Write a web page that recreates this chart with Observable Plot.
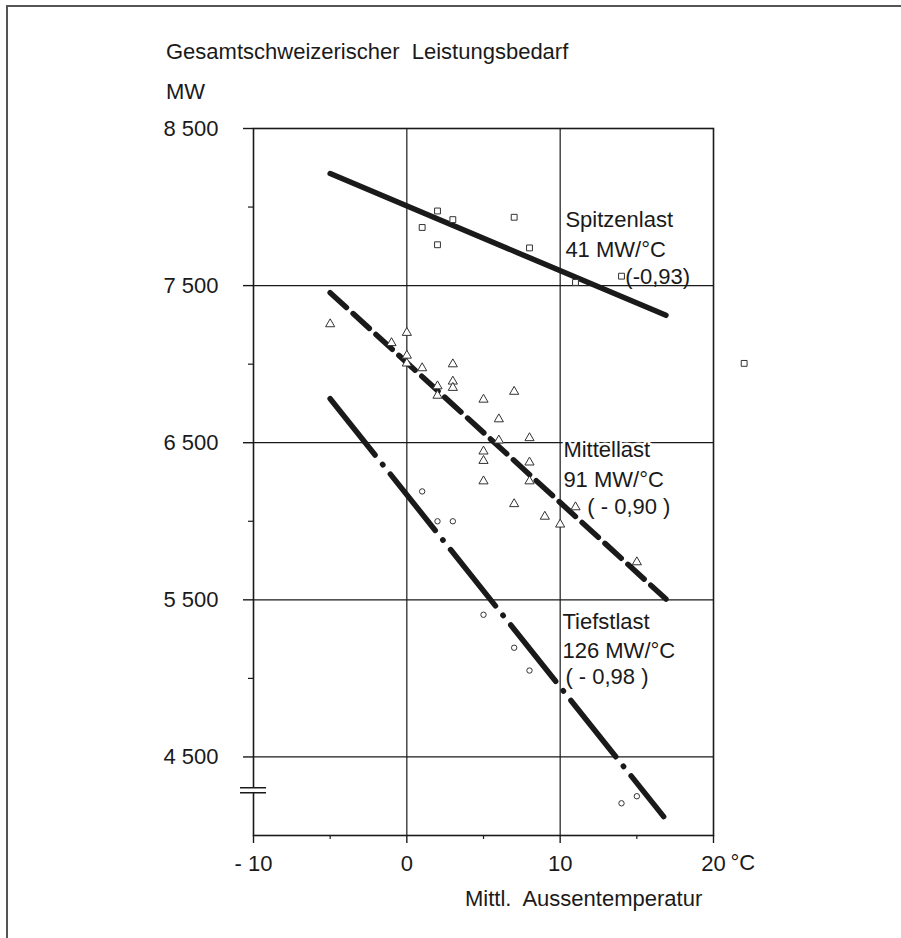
<!DOCTYPE html>
<html>
<head>
<meta charset="utf-8">
<script src="https://cdn.jsdelivr.net/npm/d3@7"></script>
<script src="https://cdn.jsdelivr.net/npm/@observablehq/plot@0.6"></script>
<style>
  body { margin: 0; background: white; }
  #wrap { position: relative; width: 901px; height: 938px; background: white; overflow: hidden; }
  #wrap svg { position: absolute; left: 0; top: 0; }
  .lbl { position: absolute; font-family: "Liberation Sans", Arial, sans-serif; font-size: 22px; line-height: 22px; color: #1a1a1a; white-space: pre; }
  #border { position: absolute; left: 6px; top: 5px; width: 900px; height: 940px; border-top: 2px solid #555; border-left: 2px solid #555; box-sizing: border-box; }
</style>
</head>
<body>
<div id="wrap">
  <div id="border"></div>
  <div class="lbl" style="left:166px; top:41px;">Gesamtschweizerischer  Leistungsbedarf</div>
  <div class="lbl" style="left:166px; top:81px;">MW</div>
  <div class="lbl" style="left:465px; top:888px;">Mittl.  Aussentemperatur</div>
</div>
<script>
// ---- Data ----
// Spitzenlast (peak load) observations: temperature (°C), MW
const spitzenT  = [1, 2, 2, 3, 7, 8, 11, 14, 22];
const spitzenMW = [7870, 7975, 7760, 7920, 7935, 7740, 7520, 7560, 7005];

// Mittellast (mean load)
const mittelT  = [-5, -1, 0, 0, 0, 1, 2, 2, 3, 3, 3, 5, 5, 5, 5, 6, 6, 7, 7, 8, 8, 8, 9, 10, 11, 15];
const mittelMW = [7255, 7135, 7200, 7055, 7005, 6975, 6860, 6800, 7000, 6890, 6850, 6775, 6445, 6385, 6255, 6650, 6515, 6825, 6110, 6530, 6375, 6255, 6030, 5980, 6090, 5740];

// Tiefstlast (minimum load)
const tiefT  = [1, 2, 3, 5, 7, 8, 14, 15];
const tiefMW = [6190, 6000, 6000, 5405, 5195, 5050, 4205, 4250];

// Regression lines (endpoints)
const spitzenLineT  = [-5, 16.9];
const spitzenLineMW = [8213, 7311];
const mittelLineT   = [-5, 16.9];
const mittelLineMW  = [7455, 5505];
const tiefLineT     = [-5, 16.75];
const tiefLineMW    = [6780, 4120];

// Labels
const seriesNames  = ["Spitzenlast", "Mittellast", "Tiefstlast"];
const seriesSlopes = ["41 MW/°C", "91 MW/°C", "126 MW/°C"];
const seriesCorr   = ["(-0,93)", "( - 0,90 )", "( - 0,98 )"];

// Axes
const yTicks      = [4500, 5500, 6500, 7500, 8500];
const yTickLabels = ["4 500", "5 500", "6 500", "7 500", "8 500"];
const yMinor      = [5000, 6000, 7000, 8000];
const yGrid       = [4500, 5500, 6500, 7500];
const xTicks      = [-10, 0, 10, 20];
const xTickLabels = ["- 10", "0", "10", "20"];
const xMinor      = [-5, 5, 15];
const xGrid       = [0, 10];
const xUnit       = "°C";
const axisBreak   = [4272, 4304];

// ---- Build ----
const zip = (xs, ys) => xs.map((x, i) => ({x, y: ys[i]}));
const ink = "#1a1a1a";
const FS = 22;

// label anchor positions (data coords)
const nameAnn = [
  {x: 10.34, y: 7916, t: seriesNames[0]},
  {x: 10.21, y: 6451, t: seriesNames[1]},
  {x: 10.15, y: 5357, t: seriesNames[2]}
];
const slopeAnn = [
  {x: 10.34, y: 7725, t: seriesSlopes[0]},
  {x: 10.21, y: 6260, t: seriesSlopes[1]},
  {x: 10.15, y: 5177, t: seriesSlopes[2]}
];
const corrAnn = [
  {x: 14.25, y: 7555, t: seriesCorr[0]},
  {x: 11.77, y: 6090, t: seriesCorr[1]},
  {x: 10.34, y: 5007, t: seriesCorr[2]}
];

const chart = Plot.plot({
  width: 901,
  height: 938,
  marginLeft: 253,
  marginRight: 188,
  marginTop: 128,
  marginBottom: 103,
  style: {background: "transparent", fontFamily: "'Liberation Sans', Arial, sans-serif", color: ink},
  x: {domain: [-10, 20], axis: null},
  y: {domain: [4000, 8500], axis: null},
  marks: [
    // grid
    Plot.ruleY(yGrid, {stroke: ink, strokeWidth: 1.2}),
    Plot.ruleX(xGrid, {stroke: ink, strokeWidth: 1.2}),
    Plot.frame({stroke: ink, strokeWidth: 1.6}),
    // y axis
    Plot.axisY({ticks: yTicks, tickSize: 10, tickPadding: 25, tickFormat: (d) => yTickLabels[yTicks.indexOf(d)], fontSize: FS, stroke: ink, strokeWidth: 1.4, label: null}),
    Plot.axisY({ticks: yMinor, tickSize: 5, tickFormat: () => "", stroke: ink, strokeWidth: 1.2, label: null}),
    // x axis
    Plot.axisX({ticks: xTicks, tickSize: 8, tickPadding: 12, tickFormat: (d) => xTickLabels[xTicks.indexOf(d)], fontSize: FS, stroke: ink, strokeWidth: 1.4, label: null}),
    Plot.axisX({ticks: xMinor, tickSize: 4, tickFormat: () => "", stroke: ink, strokeWidth: 1.2, label: null}),
    Plot.text([xTicks[xTicks.length - 1]], {x: (d) => d, frameAnchor: "bottom", text: () => xUnit, textAnchor: "start", dx: 17, dy: 34, fontSize: FS, fill: ink}),
    // axis break
    Plot.rect([axisBreak], {x1: -10.9, x2: -9.1, y1: (d) => d[0], y2: (d) => d[1], fill: "white"}),
    Plot.ruleY(axisBreak, {x1: -10.85, x2: -9.15, stroke: ink, strokeWidth: 1.5}),
    // regression lines
    Plot.line(zip(spitzenLineT, spitzenLineMW), {x: "x", y: "y", stroke: ink, strokeWidth: 5.5, strokeLinecap: "round"}),
    Plot.line(zip(mittelLineT, mittelLineMW), {x: "x", y: "y", stroke: ink, strokeWidth: 5.5, strokeLinecap: "round", strokeDasharray: "22,9"}),
    Plot.line(zip(tiefLineT, tiefLineMW), {x: "x", y: "y", stroke: ink, strokeWidth: 5.5, strokeLinecap: "round", strokeDasharray: "72,12,0.5,12"}),
    // observations
    Plot.dot(zip(spitzenT, spitzenMW), {x: "x", y: "y", symbol: "square", r: 3.3, stroke: "#333", strokeWidth: 1, fill: "white", clip: false}),
    Plot.dot(zip(mittelT, mittelMW), {x: "x", y: "y", symbol: "triangle", r: 3.4, stroke: "#333", strokeWidth: 1, fill: "white"}),
    Plot.dot(zip(tiefT, tiefMW), {x: "x", y: "y", symbol: "circle", r: 2.7, stroke: "#333", strokeWidth: 1, fill: "white"}),
    // annotations
    Plot.text(nameAnn, {x: "x", y: "y", text: "t", textAnchor: "start", fontSize: FS, fill: ink, stroke: (d, i) => i === 1 ? "white" : "none", strokeWidth: 5, paintOrder: "stroke"}),
    Plot.text(slopeAnn, {x: "x", y: "y", text: "t", textAnchor: "start", fontSize: FS, fill: ink}),
    Plot.text(corrAnn, {x: "x", y: "y", text: "t", textAnchor: "start", fontSize: FS, fill: ink})
  ]
});
document.getElementById("wrap").appendChild(chart);
</script>
</body>
</html>
